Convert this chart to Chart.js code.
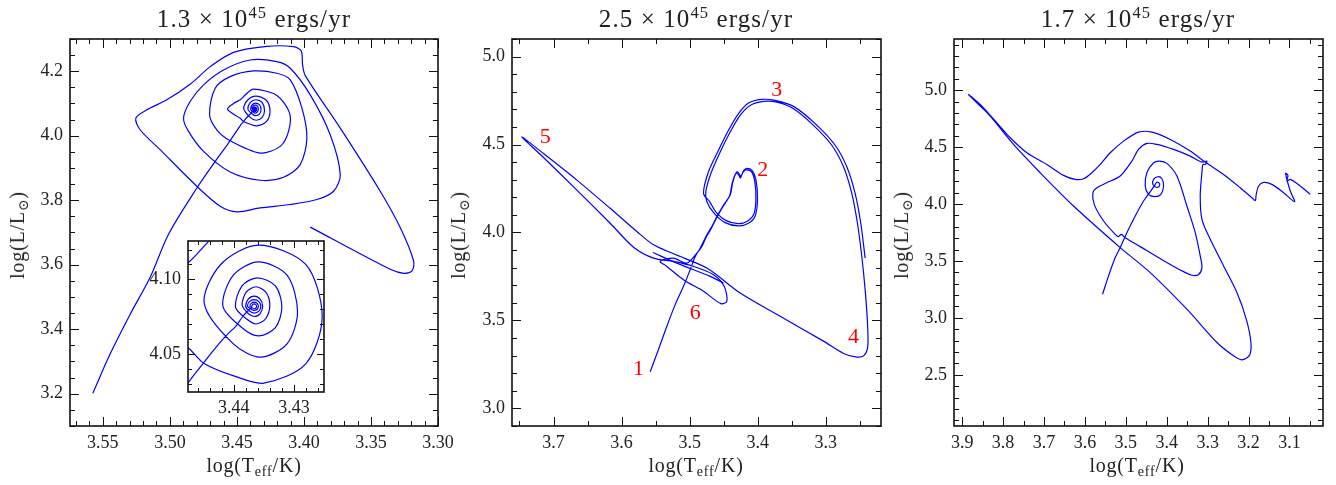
<!DOCTYPE html>
<html>
<head>
<meta charset="utf-8">
<title>HR tracks</title>
<script src="https://cdn.jsdelivr.net/npm/chart.js@4.4.1/dist/chart.umd.min.js"></script>
<style>
  body { margin: 0; background: #fff; }
  #page { position: relative; width: 1336px; height: 485px; overflow: hidden;
          font-family: "Liberation Serif", "DejaVu Serif", serif; color: #222; }
  canvas { position: absolute; }
  .title { position: absolute; top: 6px; font-size: 25px; letter-spacing: 1.1px; white-space: nowrap;
           transform: translateX(-50%); line-height: 1; }
  .xlab { position: absolute; top: 455px; font-size: 20px; letter-spacing: 0.8px; white-space: nowrap;
          transform: translateX(-50%); line-height: 1; }
  .ylab { position: absolute; top: 235px; font-size: 20px; letter-spacing: 0.8px; white-space: nowrap;
          transform: translate(-50%, -50%) rotate(-90deg); line-height: 1; }
  sup { font-size: 0.66em; vertical-align: 0.55em; line-height: 0; }
  sub { font-size: 0.7em; vertical-align: -0.3em; line-height: 0; }
</style>
</head>
<body>
<div id="page">
  <canvas id="c1" width="470" height="485" style="left:0;top:0"></canvas>
  <canvas id="c2" width="430" height="485" style="left:470px;top:0"></canvas>
  <canvas id="c3" width="436" height="485" style="left:900px;top:0"></canvas>
  <canvas id="c4" width="200" height="200" style="left:140px;top:220px"></canvas>

  <div class="title" style="left:254px">1.3 × 10<sup>45</sup> ergs/yr</div>
  <div class="title" style="left:696px">2.5 × 10<sup>45</sup> ergs/yr</div>
  <div class="title" style="left:1138px">1.7 × 10<sup>45</sup> ergs/yr</div>

  <div class="xlab" style="left:254px">log(T<sub>eff</sub>/K)</div>
  <div class="xlab" style="left:696px">log(T<sub>eff</sub>/K)</div>
  <div class="xlab" style="left:1137px">log(T<sub>eff</sub>/K)</div>

  <div class="ylab" style="left:17px">log(L/L<sub>⊙</sub>)</div>
  <div class="ylab" style="left:458px">log(L/L<sub>⊙</sub>)</div>
  <div class="ylab" style="left:901px">log(L/L<sub>⊙</sub>)</div>
</div>

<script>
// tick labels
var p1XTicks = [3.55, 3.50, 3.45, 3.40, 3.35, 3.30];
var p1YTicks = [3.2, 3.4, 3.6, 3.8, 4.0, 4.2];
var insetXTicks = [3.44, 3.43];
var insetYTicks = [4.05, 4.10];
var p2XTicks = [3.7, 3.6, 3.5, 3.4, 3.3];
var p2YTicks = [3.0, 3.5, 4.0, 4.5, 5.0];
var p3XTicks = [3.9, 3.8, 3.7, 3.6, 3.5, 3.4, 3.3, 3.2, 3.1];
var p3YTicks = [2.5, 3.0, 3.5, 4.0, 4.5, 5.0];

// track 1.3e45 : [log Teff, log L]
var p1Track = [
  [3.5575,3.2016],[3.5446,3.323],[3.5296,3.4467],[3.5147,3.561],[3.5011,3.694],[3.4799,3.838],
  [3.4662,3.9206],[3.4563,3.9774],[3.4476,4.0307],[3.4455,4.0417],[3.4433,4.0529],[3.4419,4.0596],
  [3.4406,4.0651],[3.4397,4.0684],[3.4386,4.0747],[3.4378,4.0784],[3.4372,4.0807],
  [3.4370,4.0820],[3.43688,4.08313],[3.4366,4.0836],[3.43632,4.08313],[3.4362,4.0820],[3.43632,4.08087],[3.4366,4.0804],[3.43688,4.08087],
  [3.4373,4.0820],[3.43709,4.08398],[3.4366,4.0848],[3.43611,4.08398],[3.4359,4.0820],[3.43611,4.08002],[3.4366,4.0792],[3.43709,4.08002],
  [3.4377,4.0820],[3.43738,4.08518],[3.4366,4.0865],[3.43582,4.08518],[3.4355,4.0820],[3.43582,4.07882],[3.4366,4.0775],[3.43738,4.07882],
  [3.4380,4.0820],[3.43759,4.08681],[3.4366,4.0888],[3.43561,4.08681],[3.4352,4.0820],[3.43561,4.07719],[3.4366,4.0752],[3.43759,4.07719],
  [3.4386,4.0829],[3.43790,4.0916],[3.4363,4.0951],[3.43470,4.0916],[3.4340,4.0829],[3.43470,4.0737],[3.4363,4.0702],[3.43790,4.0737],
  [3.4397,4.0815],[3.43862,4.0957],[3.4361,4.1011],[3.43308,4.0957],[3.4320,4.0815],[3.43308,4.0677],[3.4359,4.0622],[3.43862,4.0677],
  [3.4418,4.0822],[3.44006,4.1028],[3.4359,4.1117],[3.43114,4.1028],[3.4294,4.0782],[3.43114,4.0569],[3.4356,4.0480],[3.44006,4.0569],
  [3.4449,4.0840],[3.44216,4.1100],[3.4359,4.1229],[3.42804,4.1100],[3.4253,4.0751],[3.42804,4.0435],[3.4350,4.0306],
  [3.4400,4.0355],[3.4450,4.0440],[3.4475,4.0540],
  [3.4570,4.0820],[3.4525,4.1000],[3.4475,4.1115],[3.4435,4.1280],[3.4376,4.1443],[3.4202,4.1247],[3.4107,4.0701],
  [3.4115,4.0134],[3.4177,3.9670],[3.4326,3.9464],[3.4550,3.9846],[3.4650,4.0186],
  [3.4704,4.0649],[3.4662,4.1474],[3.4550,4.1834],[3.4376,4.2009],[3.4202,4.1937],[3.4102,4.1731],[3.4015,4.0855],
  [3.3978,3.9928],[3.4028,3.9104],[3.4152,3.8712],[3.4326,3.8620],[3.4550,3.8877],[3.4749,3.9516],[3.4861,4.0134],
  [3.4898,4.0546],[3.4849,4.1061],[3.4749,4.1577],[3.4600,4.2040],[3.4401,4.2349],[3.4202,4.2298],[3.4102,4.2092],
  [3.3953,4.1268],[3.3804,4.0031],[3.3729,3.8795],[3.3779,3.8280],[3.3903,3.8022],[3.4102,3.7868],[3.4326,3.7764],
  [3.4500,3.7641],[3.4625,3.7816],[3.4799,3.8434],[3.5073,3.9568],[3.5222,4.0186],
  [3.5254,4.0546],[3.5172,4.0804],[3.5023,4.1113],[3.4849,4.1597],[3.4699,4.2143],[3.4525,4.2586],[3.4276,4.2772],
  [3.4077,4.2761],[3.4020,4.2627],[3.4010,4.2195],[3.3990,4.1865],
  [3.3729,4.0237],[3.3431,3.8280],[3.3281,3.7146],[3.3182,3.6116],[3.3194,3.5807],[3.3256,3.5735],[3.3356,3.5858],[3.3953,3.7167]
];

// track 2.5e45
var p2Track = [
  [3.558,3.2088],[3.5458,3.3352],[3.5335,3.4673],[3.5213,3.59],[3.5091,3.6939],[3.4993,3.7882],[3.4919,3.8637],
  [3.4846,3.9109],[3.4748,3.9864],[3.4675,4.0336],[3.4601,4.0902],[3.4503,4.1563],[3.4405,4.2129],[3.4366,4.2884],
  [3.4307,4.3450],[3.4268,4.3300],[3.4249,4.3167],[3.4210,4.3500],[3.4170,4.3639],[3.4085,4.3530],[3.4024,4.2930],
  [3.4004,4.1846],[3.4038,4.094],[3.4136,4.0525],[3.4283,4.0374],[3.4479,4.0563],[3.464,4.1091],[3.4748,4.1752],[3.4763,4.2318],
  [3.4689,4.3356],[3.4552,4.4583],[3.4405,4.5715],[3.4259,4.6659],[3.4112,4.7225],[3.3916,4.7452],[3.372,4.7414],
  [3.3475,4.7037],[3.3182,4.6093],[3.2912,4.496],[3.2741,4.3734],[3.2619,4.2224],[3.2536,4.0525],[3.2472,3.8637],
  [3.2423,3.675],[3.2389,3.4862],[3.2384,3.3541],[3.2438,3.3013],[3.2545,3.2918],[3.2741,3.3126],
  [3.3035,3.3824],[3.3671,3.524],[3.4259,3.6561],[3.4748,3.7977],[3.5238,3.8788],[3.5531,3.9298],[3.5776,4.0053],
  [3.6168,4.1374],[3.6657,4.2979],[3.7147,4.4489],[3.7465,4.5432],
  [3.7147,4.4262],[3.6657,4.2412],[3.6168,4.0525],[3.5825,3.9166],[3.5531,3.8543],[3.5238,3.8354],
  [3.4944,3.8071],[3.465,3.7599],[3.4494,3.6939],[3.4454,3.6089],[3.4542,3.5957],[3.4797,3.6655],[3.5091,3.7316],
  [3.5335,3.8071],[3.5433,3.8354],[3.5238,3.8543],[3.5042,3.826],
  [3.4895,3.8826],[3.4821,3.9204],[3.4758,3.9732],[3.4689,4.0185],[3.4611,4.0789],[3.4513,4.1469],[3.4415,4.2073],[3.4376,4.2800],
  [3.4320,4.3370],[3.4275,4.3240],[3.4255,4.3100],[3.4218,4.3420],[3.4175,4.3560],[3.4095,4.3460],[3.4043,4.2880],
  [3.4028,4.1846],[3.4058,4.1034],[3.4146,4.0657],[3.4283,4.0506],[3.4464,4.0676],[3.4611,4.1148],[3.4709,4.1771],[3.4797,4.2224],
  [3.4724,4.345],[3.4577,4.4677],[3.443,4.581],[3.4283,4.6754],[3.4136,4.7358],[3.394,4.7565],[3.3745,4.7509],
  [3.3475,4.7169],[3.3157,4.6187],[3.2863,4.496],[3.2692,4.3734],[3.257,4.2224],[3.2487,4.0525],[3.2423,3.8543]
];
var p2Spur = [[3.5541,3.8864],[3.5189,3.826],[3.4699,3.7505],[3.4503,3.7127]];

// stage numbers on the 2.5e45 track
var p2StageText = ['1', '2', '3', '4', '5', '6'];
var p2StageTeff = [3.5752, 3.3926, 3.372, 3.2594, 3.7122, 3.4919];
var p2StageLum  = [3.222, 4.3545, 4.8113, 3.407, 4.5395, 3.5429];

// track 1.7e45
var p3Track = [
  [3.5569,3.2079],[3.5422,3.3687],[3.5259,3.5295],[3.5137,3.6172],[3.4974,3.7488],[3.477,3.895],[3.4566,4.0266],
  [3.4363,4.1289],[3.4281,4.1728],
  [3.424,4.1933],[3.4175,4.1786],[3.4192,4.1523],[3.4273,4.1494],[3.4338,4.1728],[3.4322,4.2166],[3.4216,4.24],
  [3.4118,4.2225],[3.4077,4.1582],[3.4143,4.0851],[3.4281,4.0646],[3.4444,4.0851],[3.4526,4.1582],[3.4485,4.2751],
  [3.4322,4.3628],[3.4175,4.3775],[3.3996,4.357],[3.3751,4.2459],
  [3.3507,3.9827],[3.3303,3.7488],[3.3181,3.5441],[3.314,3.4418],[3.3222,3.3804],[3.3385,3.3745],[3.367,3.4213],
  [3.4159,3.5207],[3.4648,3.626],[3.5015,3.7049],[3.5112,3.7342],[3.5178,3.7137],[3.5259,3.7342],[3.5544,3.8511],
  [3.5773,3.9973],[3.5805,4.0997],[3.5707,4.1435],[3.5463,4.1874],[3.5137,4.2459],[3.4852,4.3775],[3.4689,4.4798],
  [3.4485,4.5324],[3.424,4.5237],[3.3833,4.4798],[3.3425,4.4213],[3.314,4.3687],
  [3.3018,4.3775],[3.3059,4.3482],[3.3116,4.3482],
  [3.314,4.2751],[3.3181,4.0704],[3.314,3.8658],[3.2936,3.6903],[3.261,3.4564],[3.2284,3.2225],[3.2056,2.9886],
  [3.1942,2.7839],[3.1975,2.6728],[3.2162,2.6318],[3.2366,2.6668],[3.2773,2.7839],[3.3507,3.0763],[3.4403,3.3979],
  [3.5137,3.6172],[3.6278,3.9827],[3.7093,4.2751],[3.7745,4.5237],[3.8315,4.7722],[3.8641,4.8892],[3.8845,4.9623],
  [3.856,4.8745],[3.8152,4.7137],[3.7826,4.5821],[3.7419,4.4506],[3.693,4.3482],[3.6522,4.2517],[3.6237,4.2166],
  [3.6033,4.2225],[3.583,4.2751],[3.5626,4.3482],[3.5381,4.4506],[3.5055,4.5529],[3.4689,4.6318],[3.4363,4.6318],
  [3.3914,4.5675],[3.3425,4.4652],[3.3059,4.3687],[3.261,4.2605],[3.2203,4.1435],[3.1918,4.0558],[3.1836,4.0295],
  [3.1812,4.0851],[3.1755,4.1582],[3.1632,4.1903],[3.1429,4.1728],[3.1143,4.0997],[3.0874,4.0207],[3.098,4.1143],
  [3.1095,4.2693],[3.1037,4.2517],[3.1062,4.202],[3.098,4.2166],[3.0736,4.1582],[3.0491,4.0851]
];

var FONT = '"Liberation Serif", "DejaVu Serif", serif';

function toXY(track) {
  return track.map(function (p) { return {x: p[0], y: p[1]}; });
}

function line(track) {
  return {
    data: toXY(track),
    showLine: true,
    borderColor: '#0000ff',
    borderWidth: 1.2,
    pointRadius: 0,
    tension: 0.3,
    fill: false
  };
}

// box with inward ticks on all four sides
function framePlugin(xTicks, yTicks, xStep, yStep, major, minor, lw) {
  return {
    id: 'frame',
    afterDatasetsDraw: function (chart) {
      var ctx = chart.ctx, a = chart.chartArea;
      var xs = chart.scales.x, ys = chart.scales.y;
      ctx.save();
      ctx.strokeStyle = '#111';
      ctx.lineWidth = 1;
      function marks(scale, values, len, horiz) {
        values.forEach(function (v) {
          var p = Math.round(scale.getPixelForValue(v)) + 0.5;
          ctx.beginPath();
          if (horiz) {
            ctx.moveTo(p, a.bottom); ctx.lineTo(p, a.bottom - len);
            ctx.moveTo(p, a.top); ctx.lineTo(p, a.top + len);
          } else {
            ctx.moveTo(a.left, p); ctx.lineTo(a.left + len, p);
            ctx.moveTo(a.right, p); ctx.lineTo(a.right - len, p);
          }
          ctx.stroke();
        });
      }
      function steps(scale, step) {
        var lo = Math.min(scale.min, scale.max), hi = Math.max(scale.min, scale.max);
        var out = [];
        for (var k = Math.ceil(lo / step - 1e-6); k * step <= hi + 1e-9; k++) out.push(k * step);
        return out;
      }
      marks(xs, steps(xs, xStep), minor, true);
      marks(ys, steps(ys, yStep), minor, false);
      marks(xs, xTicks, major, true);
      marks(ys, yTicks, major, false);
      ctx.lineWidth = lw;
      ctx.strokeRect(a.left, a.top, a.right - a.left, a.bottom - a.top);
      ctx.restore();
    }
  };
}

function axis(dir, min, max, ticks, dec, reverse, size, pad) {
  return {
    type: 'linear',
    min: min,
    max: max,
    reverse: reverse,
    grid: {display: false, drawTicks: false},
    border: {display: false},
    ticks: {
      color: '#222',
      font: {family: FONT, size: 18},
      padding: pad,
      maxRotation: 0,
      autoSkip: false,
      callback: function (v) { return Number(v).toFixed(dec); }
    },
    afterBuildTicks: function (s) {
      s.ticks = ticks.map(function (v) { return {value: v}; });
    },
    afterFit: function (s) {
      if (dir === 'x') { s.height = size; s.paddingLeft = 0; s.paddingRight = 0; }
      else { s.width = size; s.paddingTop = 0; s.paddingBottom = 0; }
    }
  };
}

function makeChart(id, datasets, padding, xAxis, yAxis, plugins) {
  return new Chart(document.getElementById(id), {
    type: 'scatter',
    data: {datasets: datasets},
    options: {
      responsive: false,
      animation: false,
      events: [],
      layout: {padding: padding},
      plugins: {legend: {display: false}, tooltip: {enabled: false}},
      scales: {x: xAxis, y: yAxis}
    },
    plugins: plugins
  });
}

// panel 1
makeChart('c1', [line(p1Track)],
  {left: 0, top: 39, right: 32, bottom: 0},
  axis('x', 3.30, 3.5745, p1XTicks, 2, true, 59, 6),
  axis('y', 3.1, 4.3, p1YTicks, 1, false, 70, 7),
  [framePlugin(p1XTicks, p1YTicks, 0.01, 0.05, 9, 5, 1.6)]);

// inset of panel 1
var whiteBox = {
  id: 'whiteBox',
  beforeDatasetsDraw: function (chart) {
    var a = chart.chartArea;
    chart.ctx.save();
    chart.ctx.fillStyle = '#fff';
    chart.ctx.fillRect(a.left, a.top, a.right - a.left, a.bottom - a.top);
    chart.ctx.restore();
  }
};
makeChart('c4', [line(p1Track)],
  {left: 0, top: 21, right: 16, bottom: 0},
  axis('x', 3.425, 3.4476, insetXTicks, 2, true, 28, 5),
  axis('y', 4.0247, 4.1257, insetYTicks, 2, false, 48, 7),
  [whiteBox, framePlugin(insetXTicks, insetYTicks, 0.002, 0.01, 7, 4, 1.6)]);

// panel 2
var stageLabels = {
  id: 'stageLabels',
  afterDatasetsDraw: function (chart) {
    var ctx = chart.ctx, xs = chart.scales.x, ys = chart.scales.y;
    ctx.save();
    ctx.fillStyle = '#ff0000';
    ctx.font = '22px ' + FONT;
    ctx.textAlign = 'center';
    ctx.textBaseline = 'middle';
    p2StageText.forEach(function (t, i) {
      ctx.fillText(t, xs.getPixelForValue(p2StageTeff[i]), ys.getPixelForValue(p2StageLum[i]));
    });
    ctx.restore();
  }
};
makeChart('c2', [line(p2Track), line(p2Spur)],
  {left: 0, top: 39, right: 19, bottom: 0},
  axis('x', 3.219, 3.761, p2XTicks, 1, true, 59, 6),
  axis('y', 2.9, 5.1, p2YTicks, 1, false, 42, 7),
  [stageLabels, framePlugin(p2XTicks, p2YTicks, 0.05, 0.1, 9, 5, 1.6)]);

// panel 3
makeChart('c3', [line(p3Track)],
  {left: 0, top: 39, right: 13, bottom: 0},
  axis('x', 3.018, 3.92, p3XTicks, 1, true, 59, 6),
  axis('y', 2.05, 5.45, p3YTicks, 1, false, 54, 7),
  [framePlugin(p3XTicks, p3YTicks, 0.05, 0.1, 9, 5, 1.6)]);
</script>
</body>
</html>
